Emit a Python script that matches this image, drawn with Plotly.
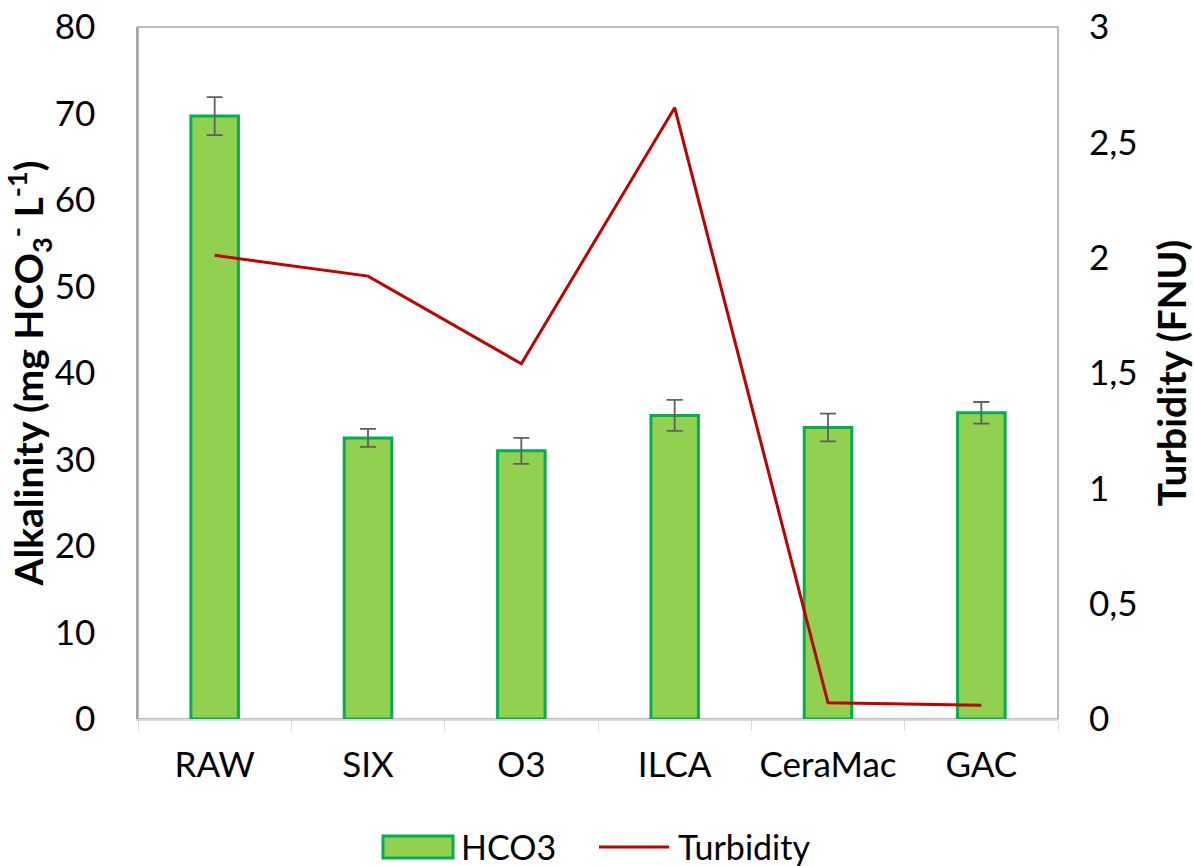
import plotly.graph_objects as go

# Treatment stages
categories = ["RAW", "SIX", "O3", "ILCA", "CeraMac", "GAC"]
# Alkalinity (mg HCO3- / L) and standard deviation
hco3 = [69.7, 32.5, 31.0, 35.1, 33.7, 35.4]
hco3_err = [2.2, 1.05, 1.5, 1.8, 1.6, 1.25]
# Turbidity (FNU)
turbidity = [2.01, 1.92, 1.54, 2.65, 0.07, 0.06]

left_ticks = [0, 10, 20, 30, 40, 50, 60, 70, 80]
right_ticks = [0, 0.5, 1, 1.5, 2, 2.5, 3]

FONT = "Lato"
TICK_SIZE = 35
TITLE_SIZE = 39
BAR_FILL = "#92D050"
BAR_EDGE = "#00B050"
LINE_RED = "#C00000"

fig = go.Figure()
fig.add_trace(go.Bar(
    x=categories, y=hco3, name="HCO3",
    marker=dict(color=BAR_FILL, line=dict(color=BAR_EDGE, width=3)),
    error_y=dict(type="data", array=hco3_err, visible=True,
                 color="#5F5F5F", thickness=1.8, width=8),
    yaxis="y",
))
fig.add_trace(go.Scatter(
    x=categories, y=turbidity, name="Turbidity", mode="lines",
    line=dict(color=LINE_RED, width=3),
    yaxis="y2",
))

fig.update_layout(
    width=1194, height=866,
    margin=dict(l=138, r=136, t=27, b=147, autoexpand=False),
    paper_bgcolor="white", plot_bgcolor="white",
    separators=", ",
    font=dict(family=FONT, size=TICK_SIZE, color="#000000"),
    bargap=0.69,
    showlegend=False,
    xaxis=dict(
        type="category", showgrid=False, tickson="boundaries",
        ticks="outside", ticklen=10, tickcolor="#D9D9D9",
        showline=True, linecolor="#D9D9D9", linewidth=1.5,
        ticklabelstandoff=14,
        tickfont=dict(size=TICK_SIZE),
    ),
    yaxis=dict(
        range=[0, 80], tickvals=left_ticks, showgrid=False, zeroline=False,
        showline=True, linecolor="#A6A6A6", linewidth=1.5,
        ticks="", ticklabelstandoff=34,
        tickfont=dict(size=TICK_SIZE),
        title=dict(text="<b>Alkalinity (mg HCO<sub>3</sub><sup>-</sup> L<sup>-1</sup>)</b>",
                   font=dict(size=TITLE_SIZE), standoff=6),
    ),
    yaxis2=dict(
        range=[0, 3], tickvals=right_ticks, overlaying="y", side="right",
        showgrid=False, zeroline=False, showline=False,
        ticks="", ticklabelstandoff=30,
        tickfont=dict(size=TICK_SIZE),
        title=dict(text="<b>Turbidity (FNU)</b>", font=dict(size=TITLE_SIZE), standoff=22),
    ),
)

# plot area frame (top and right edges)
fig.add_shape(type="rect", xref="paper", yref="paper", x0=0, x1=1, y0=0, y1=1,
              line=dict(color="#A6A6A6", width=1.5), layer="below")

# legend drawn below the plot: wide swatch for the bars, line sample for turbidity
leg_y = 847
fig.add_shape(type="rect", xref="x domain", yref="paper",
              x0=(383 - 138) / 920, x1=(453 - 138) / 920,
              y0=(719 - 858) / 692, y1=(719 - 836) / 692,
              fillcolor=BAR_FILL, line=dict(color=BAR_EDGE, width=3))
fig.add_annotation(xref="x domain", yref="paper", x=(459 - 138) / 920, y=(719 - leg_y) / 692,
                   text="HCO3", showarrow=False, xanchor="left", yanchor="middle",
                   font=dict(size=34))
fig.add_shape(type="line", xref="x domain", yref="paper",
              x0=(599 - 138) / 920, x1=(669 - 138) / 920,
              y0=(719 - leg_y) / 692, y1=(719 - leg_y) / 692,
              line=dict(color=LINE_RED, width=3))
fig.add_annotation(xref="x domain", yref="paper", x=(676 - 138) / 920, y=(719 - leg_y) / 692,
                   text="Turbidity", showarrow=False, xanchor="left", yanchor="middle",
                   font=dict(size=34))

fig.write_html("out.html")
